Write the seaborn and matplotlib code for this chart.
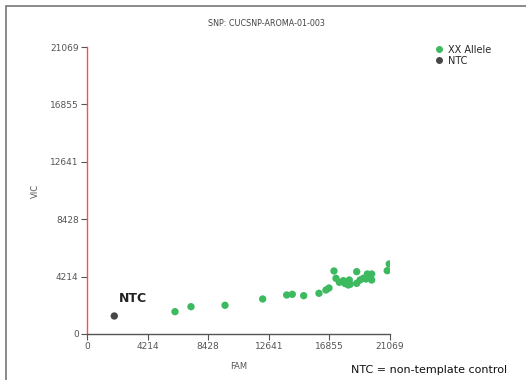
import numpy as np
import pandas as pd
import matplotlib
matplotlib.use("Agg")
import matplotlib.pyplot as plt
import seaborn as sns
from matplotlib.patches import Rectangle
from matplotlib.lines import Line2D

# data
fam_xx = [6119, 7232, 9596, 12217, 13886, 14276, 15068, 16132, 16618, 16827,
          17175, 17314, 17546, 17824, 18058, 18169, 18239, 18754, 18754, 18984,
          19216, 19494, 19679, 19795, 19400, 19795, 20876, 21015, 17950, 18300]
vic_xx = [1637, 2004, 2107, 2569, 2863, 2914, 2812, 2988, 3230, 3376,
          4625, 4089, 3795, 3913, 3839, 3597, 3964, 4574, 3721, 3964,
          4089, 4404, 4162, 4404, 4037, 3964, 4647, 5139, 3700, 3650]
fam_ntc = [1898]
vic_ntc = [1321]
ticks = [0, 4214, 8428, 12641, 16855, 21069]

df = pd.DataFrame({
    "FAM": fam_xx + fam_ntc,
    "VIC": vic_xx + vic_ntc,
    "Call": ["XX Allele"] * len(fam_xx) + ["NTC"] * len(fam_ntc),
})

sns.set_theme(style="white")
plt.rcParams["font.family"] = ["DejaVu Sans"]

fig = plt.figure(figsize=(5.26, 3.80), dpi=100)
ax = fig.add_axes([0.1654, 0.1211, 0.576, 0.7552])

sns.scatterplot(data=df, x="FAM", y="VIC", hue="Call",
                palette={"XX Allele": "#3dba5f", "NTC": "#474747"},
                s=28, edgecolor="none", ax=ax, legend=False)

ax.set_xlim(0, 21069)
ax.set_ylim(0, 21069)
ax.set_xticks(ticks)
ax.set_yticks(ticks)
ax.set_xticklabels([str(t) for t in ticks])
ax.set_yticklabels([str(t) for t in ticks])
ax.tick_params(axis="both", labelsize=6.5, labelcolor="#555555", color="#555555",
               length=4, width=0.8, direction="out", bottom=True, left=True, pad=2)
ax.set_xlabel("FAM", fontsize=6, color="#555555", labelpad=8)
ax.set_ylabel("VIC", fontsize=6, color="#555555", labelpad=7)

for side in ["top", "right"]:
    ax.spines[side].set_visible(False)
ax.spines["left"].set_color("#ff4d4d")
ax.spines["left"].set_linewidth(1.0)
ax.spines["bottom"].set_color("#555555")
ax.spines["bottom"].set_linewidth(1.0)

ax.text(2225, 2349, "NTC", fontsize=9, fontweight="bold", color="#222222")

fig.text(0.506, 0.939, "SNP: CUCSNP-AROMA-01-003", fontsize=5.8, color="#444444",
         ha="center", va="center")

# legend
handles = [Line2D([], [], marker="o", ls="", color="#3dba5f", markersize=4),
           Line2D([], [], marker="o", ls="", color="#474747", markersize=4)]
fig.legend(handles, ["XX Allele", "NTC"], loc="upper left",
           bbox_to_anchor=(0.815, 0.895), frameon=False, fontsize=7,
           handletextpad=0.3, labelspacing=0.1, borderpad=0, handlelength=1.2)

fig.text(0.668, 0.027, "NTC = non-template control", fontsize=8, color="#111111",
         ha="left", va="center")

fig.patches.append(Rectangle((0.0115, -0.05), 1.2, 1.034, transform=fig.transFigure,
                             fill=False, edgecolor="#777777", linewidth=1.2))

fig.savefig("out.png", dpi=100)
